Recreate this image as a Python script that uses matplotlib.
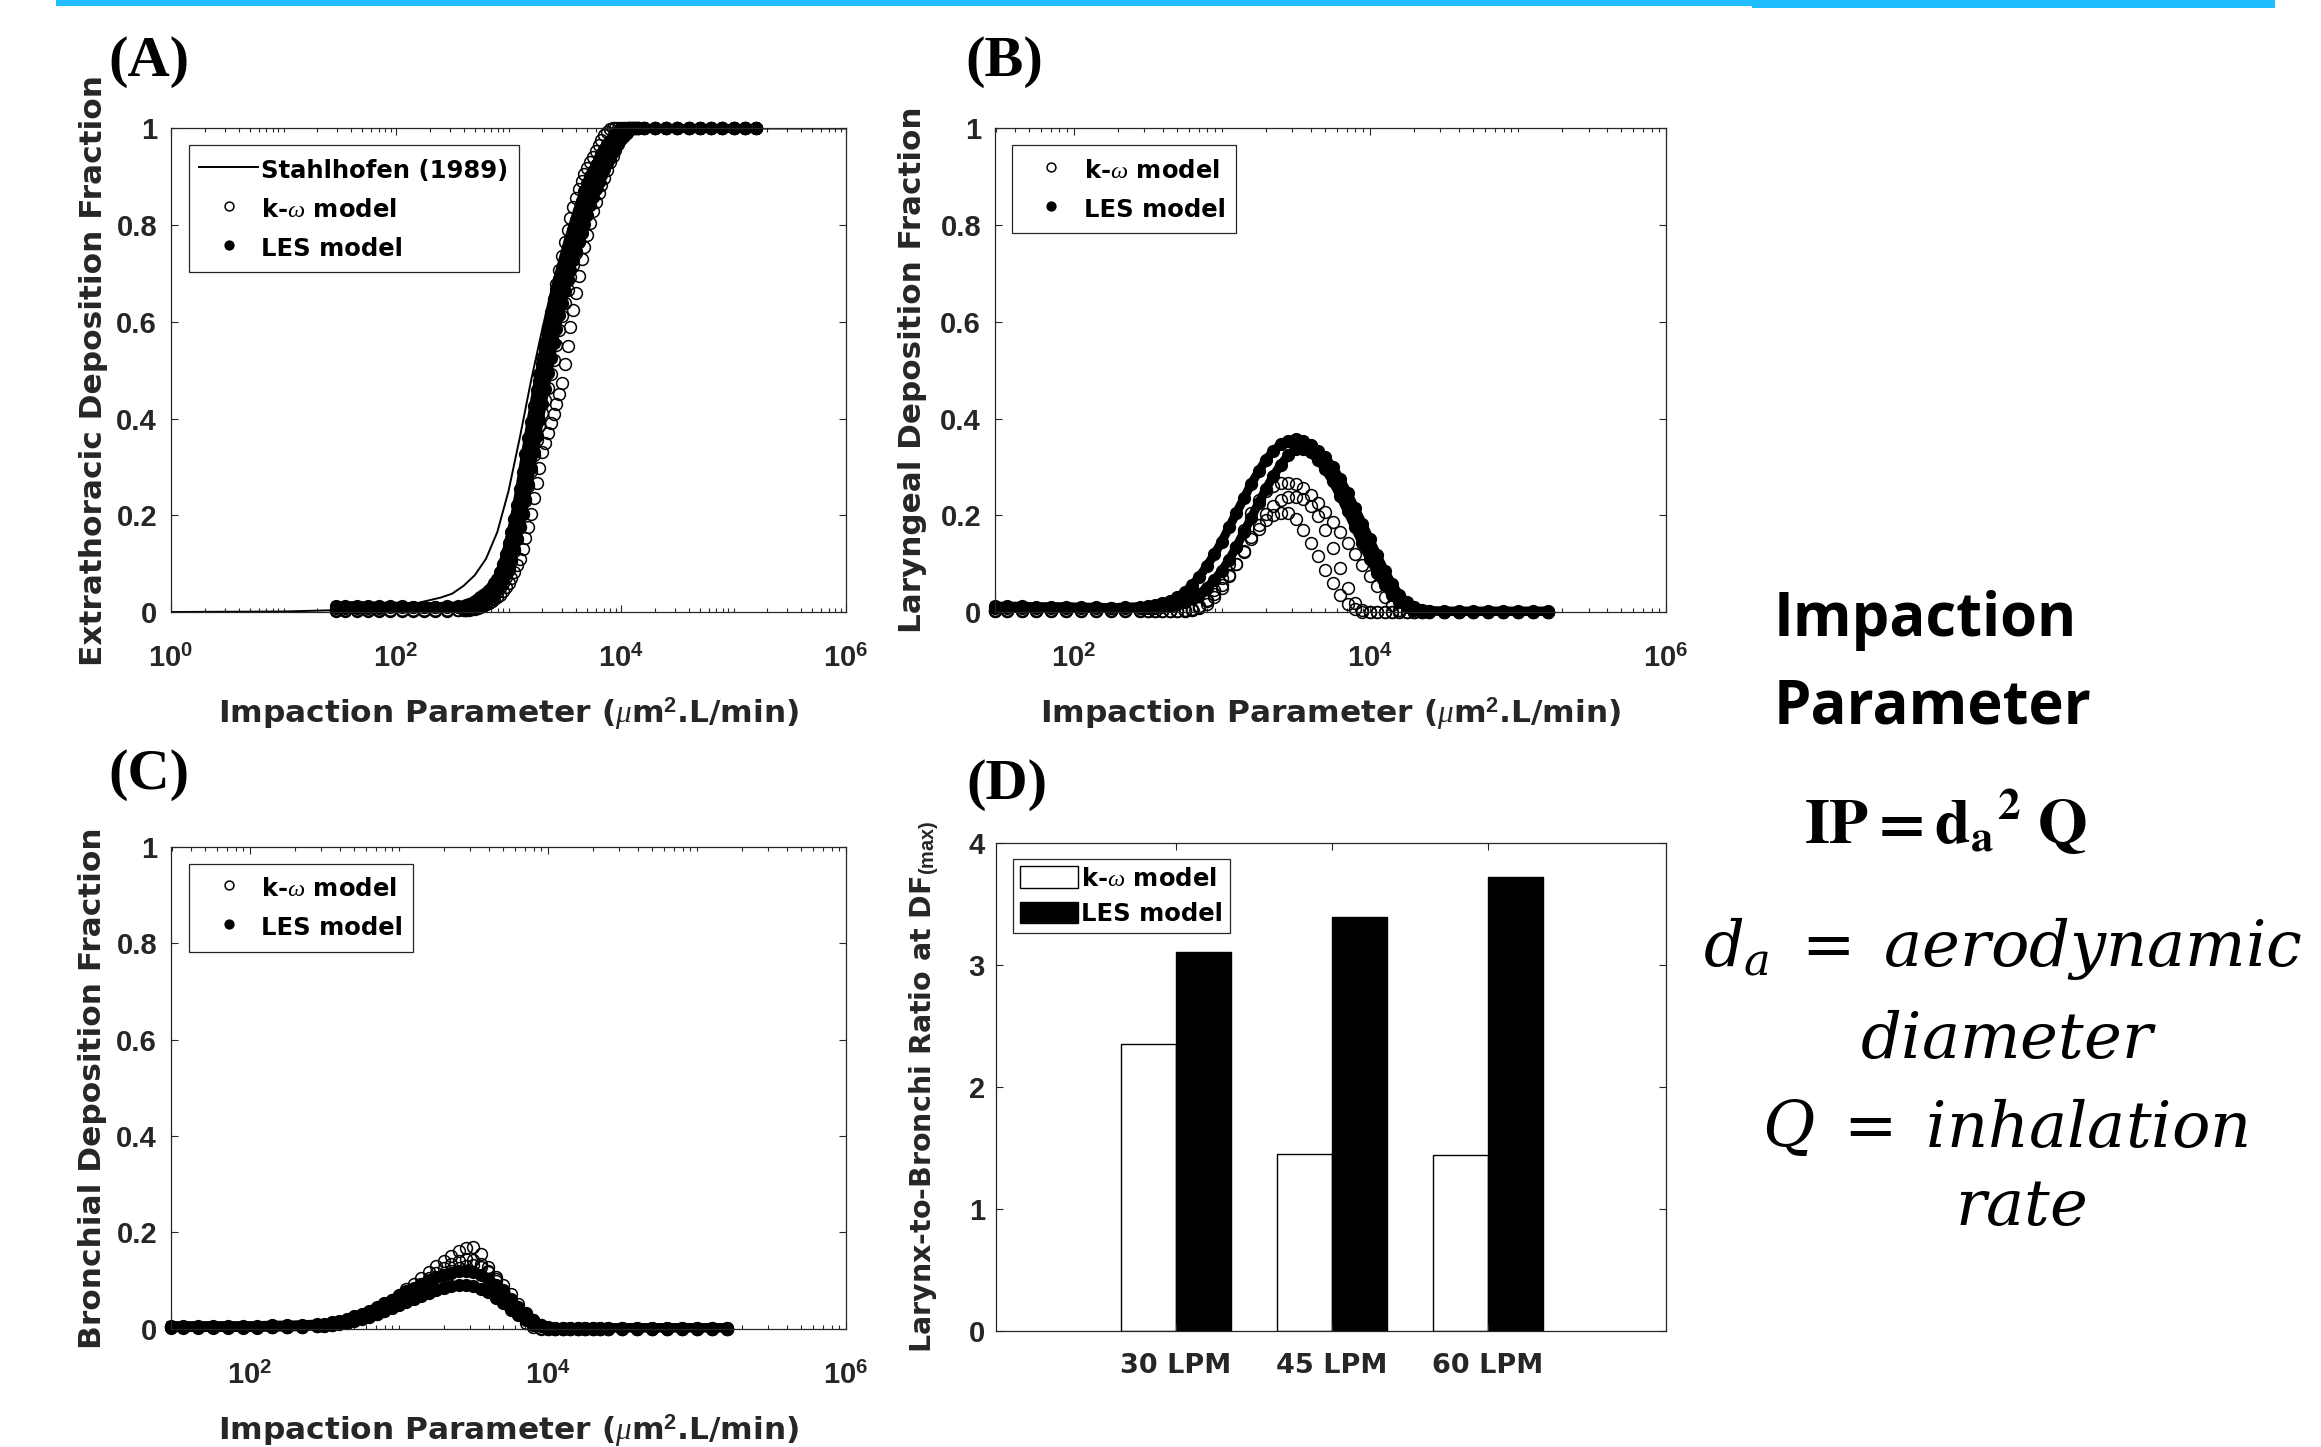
import numpy as np
import matplotlib
matplotlib.use('Agg')
import matplotlib.pyplot as plt
from matplotlib.patches import Rectangle

plt.rcParams['font.family'] = 'DejaVu Sans'
plt.rcParams['axes.labelweight'] = 'bold'
plt.rcParams['mathtext.fontset'] = 'custom'
plt.rcParams['mathtext.rm'] = 'Liberation Sans:bold'
plt.rcParams['mathtext.bf'] = 'Liberation Sans:bold'
plt.rcParams['mathtext.it'] = 'Liberation Serif:italic'

W, H = 2321, 1447
GREY = '#262626'

# ---------------- data (log10 of impaction parameter, deposition fraction) ----------------
# Stahlhofen (1989) extrathoracic curve
logip_st = [0.0, 0.5, 1.0, 1.5, 1.8, 2.0, 2.2, 2.4, 2.5, 2.6, 2.7, 2.8, 2.9,
            3.0, 3.1, 3.2, 3.3, 3.4, 3.5, 3.6, 3.7, 3.8, 3.9, 4.0, 4.1, 4.5, 5.0, 6.0]
df_st = [0.0, 0.0005, 0.001, 0.004, 0.008, 0.012, 0.019, 0.030, 0.038, 0.054, 0.076, 0.110, 0.165,
         0.250, 0.360, 0.478, 0.585, 0.685, 0.770, 0.845, 0.905, 0.955, 0.982, 0.995, 1.0,
         1.0, 1.0, 1.0]

# panel A grid
logip_a = [1.47, 1.55, 1.65, 1.75, 1.85, 1.95, 2.05, 2.15, 2.25, 2.35, 2.45, 2.55, 2.6,
           2.625, 2.65, 2.675, 2.7, 2.725, 2.75, 2.775, 2.8, 2.825, 2.85, 2.875, 2.9,
           2.925, 2.95, 2.975, 3.0, 3.025, 3.05, 3.075, 3.1, 3.125, 3.15, 3.175, 3.2,
           3.225, 3.25, 3.275, 3.3, 3.325, 3.35, 3.375, 3.4, 3.425, 3.45, 3.475, 3.5,
           3.525, 3.55, 3.575, 3.6, 3.625, 3.65, 3.675, 3.7, 3.725, 3.75, 3.775, 3.8,
           3.825, 3.85, 3.875, 3.9, 3.925, 3.95, 3.975, 4.0, 4.025, 4.05, 4.075, 4.1,
           4.125, 4.15,
           4.2, 4.3, 4.4, 4.5, 4.6, 4.7, 4.8, 4.9, 5.0, 5.1, 5.2]

et_kw1 = [0.004, 0.004, 0.004, 0.004, 0.004, 0.004, 0.004, 0.004, 0.004, 0.004, 0.005, 0.005, 0.006,
          0.006, 0.007, 0.009, 0.011, 0.014, 0.017, 0.021, 0.026, 0.032, 0.040, 0.050, 0.062,
          0.076, 0.092, 0.110, 0.130, 0.152, 0.176, 0.203, 0.232, 0.264, 0.298, 0.334, 0.370,
          0.406, 0.442, 0.478, 0.513, 0.548, 0.582, 0.615, 0.647, 0.678, 0.708, 0.737, 0.765,
          0.791, 0.815, 0.837, 0.857, 0.875, 0.891, 0.905, 0.918, 0.930, 0.942, 0.954, 0.966,
          0.977, 0.986, 0.993, 0.998, 1.0, 1.0, 1.0, 1.0, 1.0, 1.0, 1.0, 1.0,
          1.0, 1.0,
          1.0, 1.0, 1.0, 1.0, 1.0, 1.0, 1.0, 1.0, 1.0, 1.0, 1.0]
et_kw2 = [0.004, 0.004, 0.004, 0.004, 0.004, 0.004, 0.004, 0.004, 0.004, 0.004, 0.004, 0.005, 0.005,
          0.005, 0.006, 0.007, 0.009, 0.011, 0.013, 0.016, 0.020, 0.024, 0.029, 0.035, 0.042,
          0.050, 0.060, 0.072, 0.087, 0.105, 0.126, 0.150, 0.175, 0.202, 0.230, 0.260, 0.292,
          0.324, 0.356, 0.385, 0.412, 0.438, 0.464, 0.492, 0.522, 0.553, 0.583, 0.612, 0.640,
          0.666, 0.692, 0.717, 0.742, 0.768, 0.794, 0.820, 0.845, 0.868, 0.887, 0.904, 0.918,
          0.932, 0.945, 0.955, 0.964, 0.972, 0.979, 0.985, 0.990, 0.994, 0.997, 1.0, 1.0,
          1.0, 1.0,
          1.0, 1.0, 1.0, 1.0, 1.0, 1.0, 1.0, 1.0, 1.0, 1.0, 1.0]
et_kw3 = [0.003, 0.003, 0.003, 0.003, 0.003, 0.003, 0.003, 0.003, 0.003, 0.003, 0.003, 0.004, 0.004,
          0.004, 0.005, 0.006, 0.007, 0.009, 0.011, 0.013, 0.016, 0.019, 0.022, 0.026, 0.030,
          0.036, 0.043, 0.051, 0.060, 0.071, 0.082, 0.098, 0.110, 0.131, 0.153, 0.175, 0.203,
          0.235, 0.267, 0.298, 0.330, 0.350, 0.370, 0.390, 0.410, 0.430, 0.450, 0.474, 0.512,
          0.550, 0.589, 0.625, 0.660, 0.695, 0.730, 0.755, 0.780, 0.805, 0.830, 0.848, 0.866,
          0.883, 0.898, 0.914, 0.930, 0.943, 0.955, 0.968, 0.980, 0.990, 0.997, 1.0, 1.0,
          1.0, 1.0,
          1.0, 1.0, 1.0, 1.0, 1.0, 1.0, 1.0, 1.0, 1.0, 1.0, 1.0]
et_les1 = [0.008, 0.008, 0.009, 0.009, 0.009, 0.010, 0.010, 0.010, 0.011, 0.011, 0.012, 0.012, 0.013,
           0.014, 0.016, 0.019, 0.022, 0.026, 0.030, 0.035, 0.040, 0.045, 0.051, 0.059, 0.069,
           0.083, 0.100, 0.120, 0.142, 0.166, 0.192, 0.222, 0.255, 0.290, 0.326, 0.360, 0.394,
           0.427, 0.460, 0.492, 0.525, 0.557, 0.590, 0.620, 0.645, 0.668, 0.689, 0.709, 0.730,
           0.750, 0.770, 0.790, 0.810, 0.830, 0.850, 0.870, 0.887, 0.901, 0.913, 0.925, 0.937,
           0.948, 0.958, 0.967, 0.975, 0.982, 0.989, 0.995, 1.0, 1.0, 1.0, 1.0, 1.0,
           1.0, 1.0,
           1.0, 1.0, 1.0, 1.0, 1.0, 1.0, 1.0, 1.0, 1.0, 1.0, 1.0]
et_les2 = [0.013, 0.013, 0.013, 0.013, 0.012, 0.012, 0.012, 0.011, 0.011, 0.010, 0.010, 0.010, 0.010,
           0.011, 0.012, 0.014, 0.016, 0.019, 0.022, 0.026, 0.030, 0.034, 0.039, 0.044, 0.050,
           0.057, 0.066, 0.078, 0.093, 0.110, 0.130, 0.152, 0.176, 0.203, 0.233, 0.265, 0.298,
           0.331, 0.364, 0.397, 0.430, 0.462, 0.494, 0.525, 0.556, 0.586, 0.614, 0.640, 0.664,
           0.686, 0.707, 0.727, 0.746, 0.765, 0.784, 0.803, 0.822, 0.841, 0.858, 0.874, 0.889,
           0.903, 0.916, 0.928, 0.940, 0.951, 0.961, 0.970, 0.978, 0.985, 0.991, 0.996, 1.0,
           1.0, 1.0,
           1.0, 1.0, 1.0, 1.0, 1.0, 1.0, 1.0, 1.0, 1.0, 1.0, 1.0]

# panels B and C grid
logip_bc = [1.47, 1.55, 1.65, 1.75, 1.85, 1.95, 2.05, 2.15, 2.25, 2.35, 2.45,
            2.5, 2.55, 2.6, 2.65, 2.7, 2.75, 2.8, 2.85, 2.9, 2.95,
            3.0, 3.05, 3.1, 3.15, 3.2, 3.25, 3.3, 3.35, 3.4, 3.45,
            3.5, 3.55, 3.6, 3.65, 3.7, 3.75, 3.8, 3.85, 3.9, 3.95,
            4.0, 4.05, 4.1, 4.15, 4.2, 4.25, 4.3, 4.35, 4.4,
            4.5, 4.6, 4.7, 4.8, 4.9, 5.0, 5.1, 5.2]

lar_kw1 = [0.003, 0.003, 0.003, 0.003, 0.003, 0.003, 0.003, 0.003, 0.003, 0.003, 0.003,
           0.002, 0.002, 0.002, 0.002, 0.002, 0.003, 0.006, 0.012, 0.024, 0.045,
           0.070, 0.100, 0.135, 0.170, 0.205, 0.232, 0.250, 0.261, 0.266, 0.267,
           0.264, 0.256, 0.243, 0.226, 0.206, 0.186, 0.165, 0.143, 0.120, 0.097,
           0.075, 0.053, 0.032, 0.015, 0.004, 0.001, 0.0, 0.0, 0.0,
           0.0, 0.0, 0.0, 0.0, 0.0, 0.0, 0.0, 0.0]
lar_kw2 = [0.004, 0.004, 0.004, 0.004, 0.004, 0.004, 0.004, 0.004, 0.004, 0.004, 0.004,
           0.003, 0.003, 0.003, 0.003, 0.003, 0.004, 0.005, 0.008, 0.016, 0.030,
           0.050, 0.075, 0.100, 0.127, 0.155, 0.180, 0.202, 0.219, 0.231, 0.237,
           0.238, 0.233, 0.220, 0.198, 0.170, 0.132, 0.090, 0.050, 0.018, 0.004,
           0.001, 0.0, 0.0, 0.0, 0.0, 0.0, 0.0, 0.0, 0.0,
           0.0, 0.0, 0.0, 0.0, 0.0, 0.0, 0.0, 0.0]
lar_kw3 = [0.002, 0.002, 0.002, 0.002, 0.002, 0.002, 0.002, 0.002, 0.002, 0.002, 0.002,
           0.002, 0.002, 0.002, 0.002, 0.002, 0.003, 0.005, 0.011, 0.022, 0.037,
           0.055, 0.077, 0.100, 0.125, 0.150, 0.172, 0.190, 0.200, 0.205, 0.204,
           0.192, 0.170, 0.143, 0.115, 0.087, 0.060, 0.036, 0.017, 0.006, 0.001,
           0.0, 0.0, 0.0, 0.0, 0.0, 0.0, 0.0, 0.0, 0.0,
           0.0, 0.0, 0.0, 0.0, 0.0, 0.0, 0.0, 0.0]
lar_les1 = [0.008, 0.008, 0.008, 0.008, 0.008, 0.008, 0.008, 0.008, 0.009, 0.010, 0.011,
            0.012, 0.015, 0.018, 0.023, 0.030, 0.041, 0.055, 0.073, 0.095, 0.119,
            0.145, 0.175, 0.205, 0.235, 0.265, 0.291, 0.315, 0.333, 0.347, 0.354,
            0.357, 0.353, 0.345, 0.334, 0.320, 0.299, 0.275, 0.246, 0.215, 0.183,
            0.150, 0.117, 0.085, 0.058, 0.035, 0.020, 0.010, 0.005, 0.003,
            0.002, 0.002, 0.002, 0.002, 0.002, 0.002, 0.002, 0.002]
lar_les2 = [0.012, 0.012, 0.012, 0.011, 0.011, 0.011, 0.010, 0.010, 0.009, 0.009, 0.008,
            0.008, 0.009, 0.010, 0.013, 0.016, 0.021, 0.028, 0.038, 0.050, 0.066,
            0.085, 0.108, 0.135, 0.165, 0.195, 0.226, 0.255, 0.282, 0.305, 0.324,
            0.337, 0.337, 0.330, 0.315, 0.295, 0.270, 0.240, 0.208, 0.175, 0.142,
            0.110, 0.081, 0.055, 0.035, 0.020, 0.011, 0.005, 0.003, 0.002,
            0.001, 0.001, 0.001, 0.001, 0.001, 0.001, 0.001, 0.001]

br_kw1 = [0.004, 0.004, 0.004, 0.004, 0.004, 0.004, 0.004, 0.004, 0.004, 0.005, 0.007,
          0.008, 0.010, 0.012, 0.016, 0.020, 0.026, 0.033, 0.041, 0.050, 0.060,
          0.070, 0.081, 0.092, 0.104, 0.117, 0.129, 0.140, 0.150, 0.160, 0.168,
          0.170, 0.155, 0.128, 0.103, 0.080, 0.055, 0.030, 0.012, 0.003, 0.0,
          0.0, 0.0, 0.0, 0.0, 0.0, 0.0, 0.0, 0.0, 0.0,
          0.0, 0.0, 0.0, 0.0, 0.0, 0.0, 0.0, 0.0]
br_kw2 = [0.003, 0.003, 0.003, 0.003, 0.003, 0.003, 0.003, 0.003, 0.003, 0.004, 0.006,
          0.007, 0.009, 0.011, 0.014, 0.018, 0.023, 0.029, 0.036, 0.044, 0.053,
          0.063, 0.073, 0.083, 0.093, 0.104, 0.115, 0.125, 0.134, 0.141, 0.145,
          0.143, 0.133, 0.117, 0.098, 0.078, 0.057, 0.037, 0.020, 0.008, 0.002,
          0.0, 0.0, 0.0, 0.0, 0.0, 0.0, 0.0, 0.0, 0.0,
          0.0, 0.0, 0.0, 0.0, 0.0, 0.0, 0.0, 0.0]
br_kw3 = [0.003, 0.003, 0.003, 0.003, 0.003, 0.003, 0.003, 0.003, 0.003, 0.004, 0.005,
          0.006, 0.008, 0.010, 0.012, 0.015, 0.019, 0.024, 0.030, 0.037, 0.045,
          0.054, 0.063, 0.073, 0.083, 0.093, 0.103, 0.112, 0.120, 0.126, 0.130,
          0.131, 0.128, 0.120, 0.107, 0.090, 0.071, 0.051, 0.033, 0.018, 0.008,
          0.002, 0.0, 0.0, 0.0, 0.0, 0.0, 0.0, 0.0, 0.0,
          0.0, 0.0, 0.0, 0.0, 0.0, 0.0, 0.0, 0.0]
br_les1 = [0.006, 0.006, 0.006, 0.006, 0.006, 0.006, 0.006, 0.007, 0.007, 0.008, 0.009,
           0.010, 0.013, 0.016, 0.020, 0.025, 0.031, 0.037, 0.044, 0.052, 0.060,
           0.068, 0.077, 0.085, 0.093, 0.100, 0.106, 0.112, 0.116, 0.119, 0.119,
           0.117, 0.112, 0.103, 0.091, 0.077, 0.061, 0.045, 0.030, 0.017, 0.008,
           0.004, 0.002, 0.002, 0.002, 0.002, 0.002, 0.002, 0.002, 0.002,
           0.002, 0.002, 0.002, 0.002, 0.002, 0.002, 0.002, 0.002]
br_les2 = [0.002, 0.002, 0.002, 0.002, 0.002, 0.002, 0.002, 0.003, 0.003, 0.004, 0.005,
           0.006, 0.008, 0.011, 0.014, 0.017, 0.021, 0.026, 0.031, 0.037, 0.043,
           0.049, 0.056, 0.062, 0.068, 0.074, 0.079, 0.084, 0.088, 0.090, 0.090,
           0.088, 0.083, 0.075, 0.064, 0.052, 0.039, 0.027, 0.017, 0.010, 0.005,
           0.002, 0.001, 0.001, 0.001, 0.001, 0.001, 0.001, 0.001, 0.001,
           0.001, 0.001, 0.001, 0.001, 0.001, 0.001, 0.001, 0.001]

# panel D bars
flow = ['30 LPM', '45 LPM', '60 LPM']
ratio_kw = [2.35, 1.45, 1.44]
ratio_les = [3.11, 3.39, 3.72]

# ---------------- figure ----------------
fig = plt.figure(figsize=(W / 100, H / 100), dpi=100)

def px_axes(l, t, r, b):
    return fig.add_axes([l / W, 1 - b / H, (r - l) / W, (b - t) / H])

axA = px_axes(171, 128.5, 846, 612)
axB = px_axes(995, 128.5, 1666, 612)
axC = px_axes(171, 847, 846, 1328.5)
axD = px_axes(996, 843, 1666, 1331)

MS = 8.5
LEG_FONT = {'family': 'DejaVu Sans', 'weight': 'bold', 'size': 17.5}


def style(ax):
    ax.tick_params(which='both', direction='in', top=True, right=True, colors=GREY,
                   width=0.8, labelsize=21, labelfontfamily='Liberation Sans')
    ax.tick_params(which='major', length=5)
    ax.tick_params(which='minor', length=3)
    ax.tick_params(axis='x', pad=24)
    ax.tick_params(axis='y', pad=10)
    for sp in ax.spines.values():
        sp.set_color(GREY)
        sp.set_linewidth(0.9)


def log_axis(ax, left, majors):
    ax.set_xscale('log')
    ax.set_xlim(left, 1e6)
    ax.set_ylim(0, 1)
    ax.set_xticks([10.0 ** m for m in majors])
    ax.set_xticklabels([r'$10^{%d}$' % m for m in majors])
    ax.xaxis.set_minor_locator(matplotlib.ticker.LogLocator(base=10, subs=range(1, 10), numticks=30))
    ax.xaxis.set_minor_formatter(matplotlib.ticker.NullFormatter())
    ax.set_yticks([0, 0.2, 0.4, 0.6, 0.8, 1.0])
    ax.set_yticklabels(['0', '0.2', '0.4', '0.6', '0.8', '1'], fontweight='bold')
    style(ax)


def draw_models(ax, logip, kw_series, les_series):
    ip = 10.0 ** np.array(logip)
    for i, kw in enumerate(kw_series):
        ax.plot(ip, kw, 'o', ms=MS, mfc='none', mec='k', mew=1.1, clip_on=False,
                label=r'k-$\omega$ model' if i == 0 else None)
    for i, les in enumerate(les_series):
        ax.plot(ip, les, '-', color='k', lw=6.5, clip_on=False)
        ax.plot(ip, les, 'o', ms=MS, mfc='k', mec='k', clip_on=False,
                label='LES model' if i == 0 else None)


def legend(ax, anchor):
    leg = ax.legend(loc='upper left', bbox_to_anchor=anchor, borderaxespad=0, prop=LEG_FONT,
                    fancybox=False, framealpha=1, edgecolor=GREY, handlelength=2.4,
                    handleheight=1.4, handletextpad=0.15, labelspacing=0.46, borderpad=0.42,
                    markerscale=0.75)
    leg.get_frame().set_linewidth(0.9)
    return leg


xlab = r'Impaction Parameter ($\mu$m$^{2}$.L/min)'

# (A) extrathoracic
axA.plot(10.0 ** np.array(logip_st), df_st, '-', color='k', lw=1.4, label='Stahlhofen (1989)')
draw_models(axA, logip_a, [et_kw1, et_kw2, et_kw3], [et_les1, et_les2])
log_axis(axA, 1.0, [0, 2, 4, 6])
axA.set_ylabel('Extrathoracic Deposition Fraction', fontsize=22.5, color=GREY)
axA.yaxis.set_label_coords(-0.094, 0.5)
axA.set_xlabel(xlab, fontsize=22.5, color=GREY)
axA.xaxis.set_label_coords(0.5, -0.172)
legend(axA, (0.027, 0.965))

# (B) laryngeal
draw_models(axB, logip_bc, [lar_kw1, lar_kw2, lar_kw3], [lar_les1, lar_les2])
log_axis(axB, 10 ** 1.47, [2, 4, 6])
axB.set_ylabel('Laryngeal Deposition Fraction', fontsize=22.3, color=GREY)
axB.yaxis.set_label_coords(-0.101, 0.5)
axB.set_xlabel(xlab, fontsize=22.5, color=GREY)
axB.xaxis.set_label_coords(0.5, -0.172)
legend(axB, (0.025, 0.965))

# (C) bronchial
draw_models(axC, logip_bc, [br_kw1, br_kw2, br_kw3], [br_les1, br_les2])
log_axis(axC, 10 ** 1.47, [2, 4, 6])
axC.set_ylabel('Bronchial Deposition Fraction', fontsize=22.5, color=GREY)
axC.yaxis.set_label_coords(-0.095, 0.5)
axC.set_xlabel(xlab, fontsize=22.5, color=GREY)
axC.xaxis.set_label_coords(0.5, -0.174)
legend(axC, (0.027, 0.965))

# (D) ratio bars
xpos = np.arange(1, len(flow) + 1)
axD.bar(xpos - 0.178, ratio_kw, width=0.355, color='white', edgecolor='k', lw=1.0,
        label=r'k-$\omega$ model')
axD.bar(xpos + 0.178, ratio_les, width=0.355, color='k', edgecolor='k', lw=1.0,
        label='LES model')
axD.set_xlim(-0.154, 4.141)
axD.set_ylim(0, 4)
axD.set_yticks([0, 1, 2, 3, 4])
axD.set_yticklabels(['0', '1', '2', '3', '4'], fontweight='bold')
style(axD)
axD.tick_params(axis='y', pad=8)
axD.tick_params(axis='x', pad=16)
axD.set_xticks(xpos)
axD.set_xticklabels(flow, fontfamily='DejaVu Sans', fontweight='bold', fontsize=19.5)
axD.set_ylabel(r'Larynx-to-Bronchi Ratio at DF$_{\mathrm{(max)}}$', fontsize=20.5, color=GREY)
axD.yaxis.set_label_coords(-0.082, 0.5)
legD = axD.legend(loc='upper left', bbox_to_anchor=(0.025, 0.967), borderaxespad=0, prop=LEG_FONT,
                  fancybox=False, framealpha=1, edgecolor=GREY, handlelength=2.4,
                  handleheight=1.0, handletextpad=0.1, labelspacing=0.45, borderpad=0.3)
legD.get_frame().set_linewidth(0.9)

# panel letters
for txt, x, y in [('(A)', 108, 62), ('(B)', 965, 62), ('(C)', 108, 775), ('(D)', 966, 785)]:
    fig.text(x / W, 1 - y / H, txt, fontfamily='Liberation Serif', fontweight='bold',
             fontsize=42, ha='left', va='center', color='k')

# right-hand annotation
fig.text(1774 / W, 1 - 636 / H, 'Impaction', fontfamily='Open Sans', fontweight='bold',
         fontsize=43, ha='left', va='baseline', color='k')
fig.text(1774 / W, 1 - 724 / H, 'Parameter', fontfamily='Open Sans', fontweight='bold',
         fontsize=43, ha='left', va='baseline', color='k')
fig.text(1946 / W, 1 - 843 / H, r'$\mathbf{IP = d_{a}{}^{2}\ Q}$', math_fontfamily='stix',
         fontsize=46, ha='center', va='baseline', color='k')
for txt, x, y in [(r'$d_a\;=\;aerodynamic$', 2003, 966), (r'$diameter$', 2008, 1058),
                  (r'$Q\;=\;inhalation$', 2005, 1147), (r'$rate$', 2021, 1225)]:
    fig.text(x / W, 1 - y / H, txt, math_fontfamily='dejavuserif', fontsize=46,
             ha='center', va='baseline', color='k')

# blue rule at the top
fig.add_artist(Rectangle((56 / W, 1 - 6 / H), (1752 - 56) / W, 6 / H, transform=fig.transFigure,
                         color='#1FBEFF', lw=0))
fig.add_artist(Rectangle((1752 / W, 1 - 8 / H), (2275 - 1752) / W, 8 / H, transform=fig.transFigure,
                         color='#1FBEFF', lw=0))

fig.savefig('out.png', dpi=100)
